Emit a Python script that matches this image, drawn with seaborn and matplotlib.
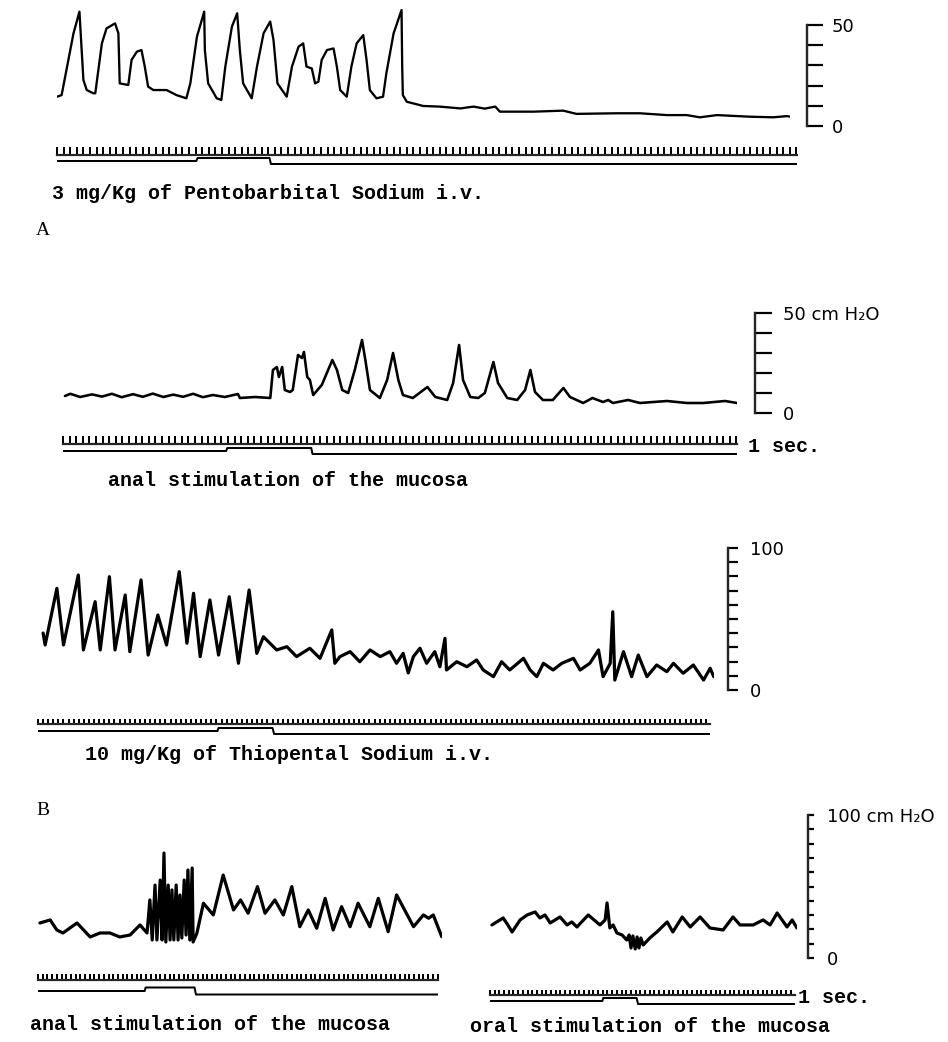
import numpy as np
import matplotlib
matplotlib.use("Agg")
import matplotlib.pyplot as plt
from matplotlib.ticker import MultipleLocator
import seaborn as sns

W, H = 948, 1042
PT = 0.72  # points per pixel at 100 dpi

# ---- A, top: pentobarbital (time s, pressure cm H2O) ----
a1_t = [0.0, 0.7, 2.5, 3.4, 4.0, 4.5, 5.5, 5.8, 6.8, 7.5,
        8.8, 9.3, 9.5, 10.8, 11.3, 12.1, 12.8, 13.3, 13.8, 14.6,
        16.6, 18.1, 19.6, 20.2, 21.2, 22.3, 22.4, 22.9, 24.2, 24.9,
        25.5, 26.5, 27.3, 27.7, 28.2, 29.5, 30.3, 31.3, 32.3, 32.8,
        33.4, 34.8, 35.6, 36.6, 37.3, 37.8, 38.6, 39.1, 39.6, 40.1,
        40.9, 41.9, 42.4, 42.9, 43.9, 44.6, 45.4, 46.4, 46.9, 47.4,
        48.4, 49.4, 49.9, 51.0, 52.2, 52.3, 52.4, 53.0, 55.5, 58.0,
        61.1, 63.1, 64.8, 66.4, 67.1, 72.2, 76.7, 78.7, 84.8, 88.3,
        92.4, 95.4, 97.4, 100.0, 105.0, 108.5, 110.6, 111.1]
a1_p = [14.5, 15.3, 45.9, 56.6, 22.8, 17.8, 16.2, 16.2, 40.9, 48.3,
        50.8, 45.9, 21.1, 20.3, 32.7, 36.8, 37.6, 29.4, 19.5, 17.8,
        17.8, 15.3, 13.7, 21.1, 44.2, 56.6, 37.6, 21.1, 13.7, 12.9,
        29.4, 49.2, 55.8, 37.6, 21.1, 13.7, 29.4, 45.9, 51.7, 42.6,
        21.1, 14.5, 29.4, 39.3, 40.9, 29.4, 28.5, 21.1, 21.9, 32.7,
        37.6, 38.4, 29.4, 17.8, 14.5, 29.4, 40.9, 45.0, 32.7, 17.8,
        13.7, 14.5, 26.1, 45.9, 57.4, 29.4, 15.3, 12.0, 9.9, 9.6,
        8.7, 9.6, 8.6, 9.6, 7.1, 7.1, 7.6, 6.0, 6.3, 6.3,
        5.4, 5.4, 4.3, 5.4, 4.6, 4.3, 4.9, 4.6]

# ---- A, bottom: anal stimulation ----
a2_t = [0.3, 1.1, 2.6, 4.4, 5.9, 7.4, 8.9, 10.6, 12.1, 13.6,
        15.2, 16.7, 18.2, 19.7, 21.2, 22.7, 24.5, 26.5, 26.8, 29.1,
        31.4, 31.8, 32.4, 32.7, 33.2, 33.6, 34.4, 34.8, 35.6, 36.2,
        36.5, 37.0, 37.4, 37.9, 39.2, 40.8, 41.5, 42.3, 43.2, 44.2,
        45.3, 45.8, 46.5, 48.0, 49.1, 50.0, 50.8, 51.5, 53.0, 55.2,
        56.4, 58.2, 59.1, 60.0, 60.6, 61.7, 62.9, 63.9, 65.2, 65.9,
        67.3, 68.8, 70.0, 70.8, 71.5, 72.7, 74.2, 75.8, 76.8, 78.8,
        80.2, 81.8, 82.6, 83.3, 85.6, 87.4, 91.5, 94.5, 97.0, 100.3,
        102.1]
a2_p = [8.5, 9.6, 8.0, 9.3, 8.2, 9.6, 7.9, 9.4, 8.1, 9.7,
        8.0, 9.2, 8.1, 9.6, 7.9, 9.0, 8.0, 9.5, 7.5, 8.0,
        7.5, 21.5, 23.0, 18.0, 23.0, 11.5, 10.5, 11.5, 29.0, 27.5,
        30.5, 18.0, 16.5, 9.0, 14.0, 26.5, 21.5, 11.5, 10.0, 21.5,
        36.5, 26.5, 11.5, 7.5, 16.5, 30.0, 16.5, 9.0, 7.5, 13.0,
        8.0, 6.5, 15.0, 34.0, 16.5, 8.0, 7.5, 10.0, 25.5, 15.0,
        7.5, 6.5, 11.5, 21.5, 10.5, 6.5, 6.5, 12.5, 8.0, 5.0,
        7.5, 5.5, 6.5, 5.0, 6.5, 5.0, 6.0, 5.0, 5.0, 6.0,
        5.0]

# ---- B, top: thiopental ----
b1_t = [1.0, 1.4, 3.7, 5.0, 7.9, 8.9, 11.2, 12.2, 14.0, 15.1,
        17.1, 18.0, 20.2, 21.6, 23.5, 25.2, 27.7, 29.2, 30.5, 31.8,
        33.7, 35.4, 37.5, 39.3, 41.4, 42.9, 44.2, 46.8, 48.8, 50.7,
        53.3, 55.3, 57.6, 58.2, 59.2, 61.2, 63.1, 65.1, 67.1, 69.0,
        70.3, 71.6, 72.6, 73.6, 74.9, 76.2, 77.8, 78.8, 79.8, 80.1,
        82.1, 84.1, 86.0, 87.3, 89.3, 90.9, 92.5, 95.2, 96.5, 97.8,
        99.1, 101.0, 102.7, 105.0, 106.3, 108.2, 109.9, 110.8, 112.2, 112.7,
        113.1, 114.8, 116.4, 117.7, 119.4, 121.3, 123.3, 124.6, 126.5, 128.5,
        130.5, 131.8, 132.5]
b1_p = [40.1, 31.7, 71.6, 31.7, 81.0, 28.2, 62.2, 28.2, 79.8, 28.2,
        66.9, 27.0, 77.5, 24.6, 52.8, 31.7, 83.3, 32.9, 68.1, 23.5,
        63.4, 24.6, 65.7, 18.8, 70.4, 25.8, 37.5, 28.2, 30.5, 23.5,
        29.4, 22.3, 42.3, 18.8, 23.5, 27.0, 19.9, 28.2, 23.5, 27.0,
        18.8, 25.8, 12.0, 23.5, 29.4, 18.8, 27.0, 16.4, 36.4, 14.1,
        19.9, 16.4, 21.1, 14.1, 9.4, 19.9, 14.1, 22.3, 14.1, 9.4,
        18.8, 14.1, 18.8, 22.3, 14.1, 18.8, 28.2, 9.4, 18.8, 55.1,
        7.0, 27.0, 9.4, 24.6, 9.4, 17.6, 12.9, 18.8, 11.8, 17.6,
        7.0, 15.3, 9.4]

# ---- B, bottom left: anal stimulation ----
b2l_t = [0.4, 2.6, 4.0, 5.3, 6.8, 8.3, 11.1, 13.2, 15.3, 17.4,
         19.6, 21.7, 23.2, 23.8, 24.3, 24.9, 25.3, 26.0, 26.4, 26.8,
         27.2, 27.7, 28.1, 28.5, 28.9, 29.4, 29.8, 30.2, 30.6, 31.1,
         31.5, 31.9, 32.3, 32.8, 33.0, 33.8, 35.2, 37.3, 39.4, 41.6,
         43.1, 44.7, 46.7, 48.3, 50.4, 52.2, 54.0, 55.7, 57.5, 59.3,
         61.1, 62.8, 64.6, 66.4, 68.1, 70.6, 72.4, 74.5, 76.3, 79.9,
         82.0, 83.1, 84.1, 85.9]
b2l_p = [24.5, 26.6, 19.6, 17.5, 21.0, 24.5, 14.7, 17.5, 17.5, 14.7,
         16.1, 23.1, 17.5, 40.6, 12.6, 51.0, 12.6, 54.5, 12.6, 73.4,
         11.2, 51.0, 12.6, 47.6, 12.6, 51.0, 12.6, 44.1, 14.0, 54.5,
         16.1, 61.5, 12.6, 62.9, 11.2, 17.3, 38.3, 30.1, 58.0, 33.6,
         40.6, 31.3, 49.9, 31.3, 40.6, 30.1, 49.9, 21.9, 33.6, 20.8,
         41.7, 19.6, 35.9, 21.9, 38.3, 21.9, 41.7, 18.4, 44.1, 21.9,
         30.1, 27.8, 30.1, 14.9]

# ---- B, bottom right: oral stimulation ----
b2r_t = [0.4, 2.8, 3.8, 4.7, 6.4, 7.9, 9.6, 10.6, 11.7, 12.8,
         14.9, 16.4, 17.4, 18.5, 20.9, 23.4, 24.5, 24.9, 25.5, 26.2,
         27.0, 28.1, 29.1, 29.6, 30.0, 30.4, 30.9, 31.3, 31.7, 32.1,
         32.6, 34.0, 35.5, 36.6, 37.7, 38.9, 40.9, 42.6, 44.7, 46.8,
         49.6, 51.7, 53.2, 56.0, 58.1, 59.6, 61.1, 63.2, 64.3, 65.3]
b2r_p = [23.1, 28.0, 23.1, 18.2, 26.6, 30.1, 32.2, 28.0, 30.1, 24.5,
         28.7, 23.1, 25.2, 21.7, 30.1, 23.1, 26.6, 38.5, 21.0, 23.1,
         17.5, 16.1, 12.6, 16.1, 7.0, 15.4, 6.3, 14.7, 7.0, 14.0,
         9.1, 14.0, 18.2, 21.7, 25.2, 18.2, 28.7, 21.7, 28.7, 21.0,
         19.6, 28.7, 23.1, 23.1, 26.6, 23.1, 31.5, 21.7, 26.6, 21.0]

# stimulus marker line (before / on / after)
ev_state = [0, 0, 1, 1, -1, -1]
a1_ev_t = [0, 21.1, 21.3, 32.2, 32.4, 112.1]
a2_ev_t = [0, 24.7, 24.9, 37.6, 37.8, 102.1]
b1_ev_t = [0, 35.2, 35.4, 46.0, 46.3, 131.8]
b2l_ev_t = [0, 22.7, 22.9, 33.3, 33.6, 85.1]
b2r_ev_t = [0, 23.9, 24.1, 31.2, 31.5, 64.9]

TYPE = ['Liberation Mono', 'DejaVu Sans Mono']


def px_axes(fig, x0, y0, x1, y1):
    ax = fig.add_axes([x0 / W, 1 - y1 / H, (x1 - x0) / W, (y1 - y0) / H])
    ax.set_facecolor('none')
    for s in ax.spines.values():
        s.set_visible(False)
    return ax


def trace(fig, box, t, p, tmax, pmax, lw):
    ax = px_axes(fig, *box)
    sns.lineplot(x=t, y=p, ax=ax, color='black', linewidth=lw * PT,
                 sort=False, estimator=None)
    ax.set_xlim(0, tmax)
    ax.set_ylim(0, pmax)
    ax.set_xlabel('')
    ax.set_ylabel('')
    ax.set_xticks([])
    ax.set_yticks([])
    return ax


def scale_bar(ax, top, label, offset, tick_len, pad):
    ax.yaxis.tick_right()
    sp = ax.spines['right']
    sp.set_visible(True)
    sp.set_position(('outward', offset * PT))
    sp.set_bounds(0, top)
    sp.set_linewidth(2.4 * PT)
    ticks = list(range(0, top + 1, 10))
    ax.set_yticks(ticks)
    ax.set_yticklabels(['0'] + [''] * (len(ticks) - 2) + [label])
    ax.tick_params(axis='y', right=True, left=False, direction='out',
                   length=tick_len * PT, width=2.2 * PT, pad=pad * PT,
                   labelsize=13, labelcolor='black', color='black')


def timer(fig, x0, x1, base, tmax, tick_len, ev_t, ev_mid, ev_unit):
    ax = px_axes(fig, x0, base - 12, x1, base)
    ax.set_xlim(0, tmax)
    ax.set_yticks([])
    ax.spines['bottom'].set_visible(True)
    ax.spines['bottom'].set_linewidth(2.2 * PT)
    ax.xaxis.set_major_locator(MultipleLocator(1))
    ax.tick_params(axis='x', bottom=True, direction='in', length=tick_len * PT,
                   width=2.0 * PT, labelbottom=False, color='black')
    ev = px_axes(fig, x0, ev_mid - 2 * ev_unit, x1, ev_mid + 2 * ev_unit)
    sns.lineplot(x=ev_t, y=ev_state, ax=ev, color='black', linewidth=2.0 * PT,
                 sort=False, estimator=None)
    ev.set_xlim(0, tmax)
    ev.set_ylim(-2, 2)
    ev.set_xticks([])
    ev.set_yticks([])
    ev.set_xlabel('')
    ev.set_ylabel('')


def label(fig, x, y, s, **kw):
    fig.text(x / W, 1 - y / H, s, va='baseline', ha='left', color='black', **kw)


sns.set_theme(style='white')
plt.rcParams['font.family'] = ['DejaVu Sans']
plt.rcParams['lines.solid_joinstyle'] = 'round'
plt.rcParams['lines.solid_capstyle'] = 'round'

fig = plt.figure(figsize=(W / 100, H / 100), dpi=100)
fig.patch.set_facecolor('white')

# A top
ax = trace(fig, (57, 4.8, 790.3, 126), a1_t, a1_p, 111.1, 60, 2.3)
scale_bar(ax, 50, '50', 16.7, 16, 9)
timer(fig, 57, 797, 155, 112.1, 8, a1_ev_t, 161, 3)
label(fig, 52, 199, '3 mg/Kg of Pentobarbital Sodium i.v.',
      family=TYPE, fontsize=14.4, fontweight='bold')
label(fig, 36, 235, 'A', family=['Liberation Serif'], fontsize=14)

# A bottom
ax = trace(fig, (63, 313, 737, 413), a2_t, a2_p, 102.1, 50, 2.6)
scale_bar(ax, 50, '50 cm H\u2082O', 18, 17, 11)
timer(fig, 63, 737, 444, 102.1, 8, a2_ev_t, 451, 3)
label(fig, 748, 452, '1 sec.', family=TYPE, fontsize=14.4, fontweight='bold')
label(fig, 108, 486, 'anal stimulation of the mucosa',
      family=TYPE, fontsize=14.4, fontweight='bold')

# B top
ax = trace(fig, (38, 548, 713.75, 690), b1_t, b1_p, 132.5, 100, 3.2)
scale_bar(ax, 100, '100', 14.3, 10, 12)
timer(fig, 38, 710, 724, 131.8, 5, b1_ev_t, 731, 3)
label(fig, 85, 760, '10 mg/Kg of Thiopental Sodium i.v.',
      family=TYPE, fontsize=14.4, fontweight='bold')
label(fig, 36, 815, 'B', family=['Liberation Serif'], fontsize=14)

# B bottom left
trace(fig, (38, 815, 442.2, 958), b2l_t, b2l_p, 86, 100, 3.2)
timer(fig, 38, 438, 980, 85.1, 6, b2l_ev_t, 991, 3.5)
label(fig, 30, 1030, 'anal stimulation of the mucosa',
      family=TYPE, fontsize=14.4, fontweight='bold')

# B bottom right
ax = trace(fig, (490, 815, 796.9, 958), b2r_t, b2r_p, 65.3, 100, 3.2)
scale_bar(ax, 100, '100 cm H\u2082O', 11.1, 6, 13)
timer(fig, 490, 795, 995, 64.9, 5, b2r_ev_t, 1001, 3)
label(fig, 798, 1003, '1 sec.', family=TYPE, fontsize=14.4, fontweight='bold')
label(fig, 470, 1032, 'oral stimulation of the mucosa',
      family=TYPE, fontsize=14.4, fontweight='bold')

fig.savefig('out.png', dpi=100, facecolor='white')
